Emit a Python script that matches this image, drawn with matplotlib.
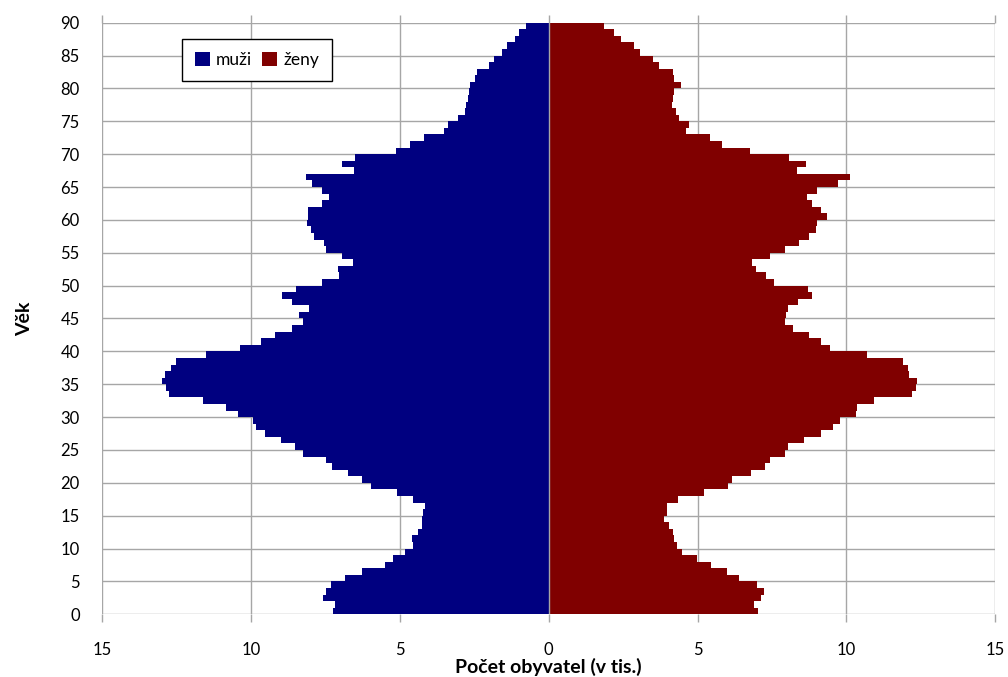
import numpy as np
import matplotlib.pyplot as plt

# věk 0-89, počet obyvatel v tisících
ages = np.arange(90)
muzi = [7.24, 7.17, 7.59, 7.48, 7.32, 6.84, 6.28, 5.49, 5.22, 4.82,
        4.55, 4.59, 4.40, 4.26, 4.24, 4.22, 4.15, 4.55, 5.08, 5.98,
        6.28, 6.73, 7.26, 7.47, 8.25, 8.52, 9.00, 9.51, 9.84, 9.92,
        10.43, 10.82, 11.60, 12.74, 12.84, 12.98, 12.89, 12.67, 12.51, 11.50,
        10.37, 9.65, 9.20, 8.61, 8.25, 8.37, 8.05, 8.63, 8.97, 8.48,
        7.60, 7.04, 7.06, 6.57, 6.95, 7.47, 7.54, 7.88, 7.99, 8.10,
        8.07, 8.07, 7.62, 7.38, 7.60, 7.96, 8.14, 6.54, 6.95, 6.50,
        5.13, 4.65, 4.20, 3.50, 3.37, 3.04, 2.81, 2.76, 2.70, 2.67,
        2.64, 2.48, 2.41, 1.99, 1.83, 1.57, 1.41, 1.12, 1.01, 0.76]
zeny = [7.03, 6.89, 7.14, 7.22, 7.00, 6.39, 5.99, 5.46, 4.98, 4.49,
        4.32, 4.21, 4.17, 4.03, 3.89, 3.98, 3.98, 4.36, 5.21, 6.02,
        6.17, 6.81, 7.26, 7.44, 7.93, 8.04, 8.57, 9.13, 9.55, 9.78,
        10.32, 10.36, 10.93, 12.19, 12.33, 12.36, 12.11, 12.08, 11.89, 10.68,
        9.44, 9.14, 8.74, 8.21, 7.93, 7.98, 8.04, 8.38, 8.83, 8.71,
        7.56, 7.29, 6.95, 6.84, 7.45, 7.93, 8.41, 8.75, 8.97, 9.02,
        9.35, 9.16, 8.86, 8.68, 9.02, 9.72, 10.11, 8.34, 8.63, 8.07,
        6.77, 5.83, 5.41, 4.60, 4.73, 4.37, 4.26, 4.15, 4.19, 4.21,
        4.43, 4.21, 4.19, 3.69, 3.50, 3.08, 2.86, 2.43, 2.18, 1.87]

xticks = np.arange(-15, 16, 5)
yticks = np.arange(0, 91, 5)

plt.rcParams['font.family'] = ['Lato', 'DejaVu Sans']
grid_col = '#a6a6a6'

fig = plt.figure(figsize=(10.08, 6.77), dpi=100)
ax = fig.add_axes([0.1012, 0.0926, 0.8862, 0.8739])

ax.barh(ages, -np.array(muzi), height=1, align='edge', color='#000080', label='muži', zorder=2)
ax.barh(ages, zeny, height=1, align='edge', color='#800000', label='ženy', zorder=2)
ax.axvline(0, color=grid_col, lw=1, zorder=3)

ax.set_xlim(-15, 15)
ax.set_ylim(0, 90)
ax.set_xticks(xticks)
ax.set_xticklabels([str(abs(v)) for v in xticks])
ax.set_yticks(yticks)
ax.grid(True, color=grid_col, lw=1, zorder=0)
ax.set_axisbelow(True)
for s in ax.spines.values():
    s.set_visible(False)

ax.tick_params(axis='x', length=6, color=grid_col, width=1, direction='out',
               top=True, pad=14, labelsize=12)
ax.tick_params(axis='y', length=0, pad=16, labelsize=12)

ax.set_xlabel('Počet obyvatel (v tis.)', fontsize=14, fontweight='bold', labelpad=0)
ax.set_ylabel('Věk', fontsize=14, fontweight='bold', labelpad=20)

ax.legend(loc='upper left', bbox_to_anchor=(0.0896, 0.972), ncol=2,
          fancybox=False, edgecolor='black', framealpha=1, borderaxespad=0,
          handlelength=0.85, handleheight=0.85, handletextpad=0.35,
          columnspacing=0.6, borderpad=0.75, fontsize=12.5)

fig.savefig('out.png', dpi=100)
